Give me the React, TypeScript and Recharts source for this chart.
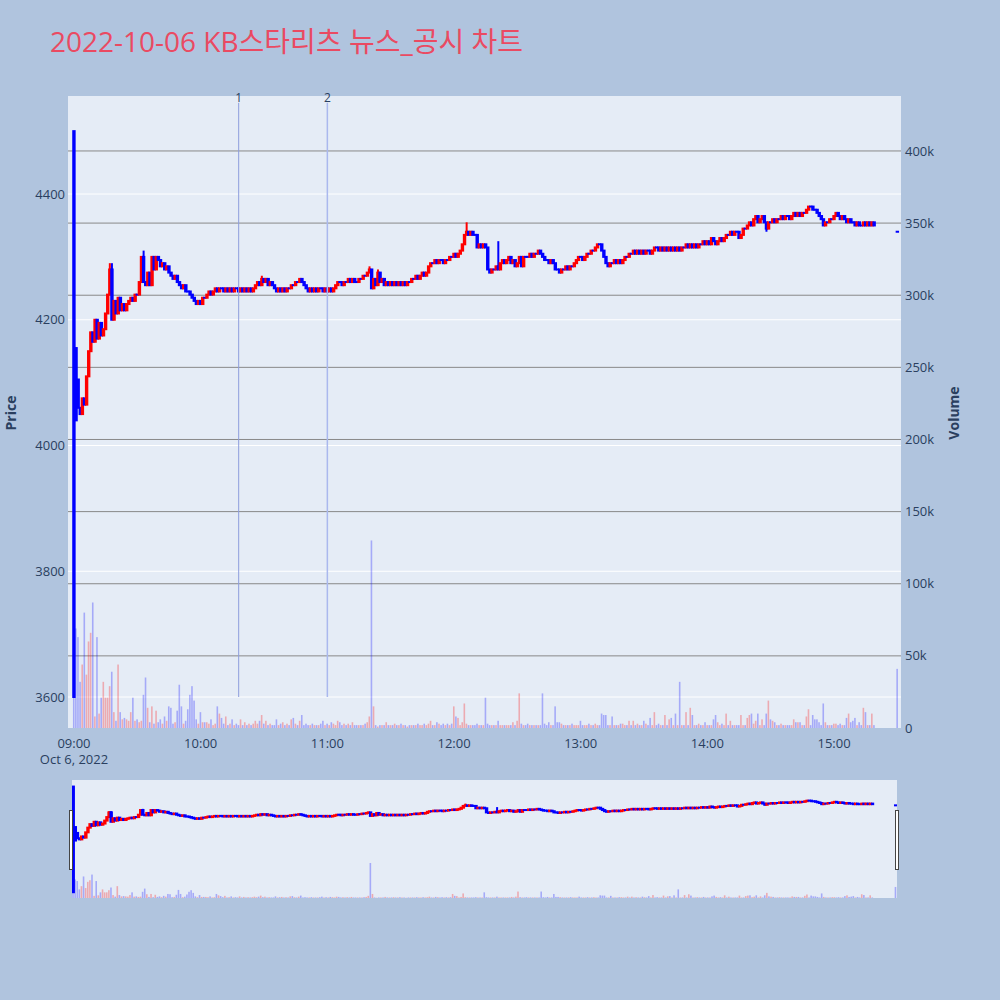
import { ComposedChart, Bar, XAxis, YAxis, CartesianGrid, ReferenceLine } from "recharts";

const RED = "#ff0000";
const BLUE = "#0000ff";
const INK = "#2a3f5f";
const FONT = '"Open Sans", "Noto Sans CJK KR", sans-serif';

// closing price per minute from 09:00 (index 0) to 15:19
const closes = [
  3600, 4040, 4060, 4050, 4075, 4065, 4110, 4150, 4180, 4165,
  4200, 4170, 4195, 4175, 4185, 4210, 4240, 4280, 4200, 4230,
  4210, 4235, 4215, 4225, 4215, 4225, 4230, 4235, 4230, 4240,
  4240, 4260, 4300, 4260, 4255, 4275, 4255, 4300, 4280, 4300,
  4295, 4285, 4290, 4280, 4285, 4275, 4270, 4265, 4270, 4260,
  4255, 4250, 4255, 4245, 4245, 4240, 4235, 4230, 4225, 4230,
  4225, 4235, 4235, 4240, 4245, 4240, 4245, 4250, 4245, 4250,
  4250, 4245, 4250, 4245, 4250, 4245, 4250, 4250, 4245, 4250,
  4245, 4250, 4245, 4250, 4245, 4250, 4255, 4260, 4255, 4265,
  4260, 4265, 4255, 4260, 4255, 4250, 4245, 4250, 4245, 4250,
  4245, 4250, 4250, 4255, 4255, 4260, 4260, 4265, 4260, 4255,
  4250, 4245, 4250, 4245, 4250, 4245, 4250, 4250, 4245, 4250,
  4245, 4250, 4245, 4250, 4255, 4260, 4260, 4255, 4260, 4260,
  4265, 4260, 4265, 4260, 4260, 4265, 4265, 4270, 4270, 4275,
  4280, 4250, 4265, 4255, 4275, 4260, 4265, 4255, 4260, 4255,
  4260, 4255, 4260, 4255, 4260, 4255, 4260, 4255, 4260, 4260,
  4265, 4265, 4270, 4265, 4270, 4275, 4270, 4275, 4285, 4290,
  4290, 4295, 4290, 4295, 4295, 4290, 4295, 4295, 4300, 4300,
  4305, 4300, 4305, 4310, 4320, 4335, 4340, 4335, 4340, 4335,
  4335, 4315, 4320, 4315, 4320, 4315, 4280, 4275, 4280, 4280,
  4285, 4280, 4290, 4295, 4290, 4295, 4300, 4290, 4295, 4285,
  4290, 4300, 4285, 4300, 4300, 4300, 4305, 4300, 4305, 4305,
  4310, 4305, 4300, 4295, 4295, 4290, 4295, 4290, 4280, 4280,
  4275, 4280, 4280, 4285, 4280, 4285, 4285, 4290, 4295, 4300,
  4300, 4295, 4300, 4305, 4305, 4310, 4310, 4315, 4320, 4320,
  4310, 4300, 4290, 4285, 4290, 4290, 4295, 4290, 4295, 4290,
  4295, 4300, 4300, 4305, 4305, 4310, 4305, 4310, 4305, 4310,
  4305, 4310, 4310, 4305, 4310, 4315, 4315, 4310, 4315, 4310,
  4315, 4310, 4315, 4310, 4315, 4310, 4315, 4310, 4315, 4315,
  4320, 4315, 4320, 4315, 4320, 4315, 4320, 4320, 4325, 4320,
  4325, 4320, 4330, 4325, 4320, 4325, 4330, 4325, 4330, 4335,
  4335, 4340, 4335, 4340, 4340, 4330, 4335, 4345, 4345, 4350,
  4355, 4350, 4360, 4365, 4355, 4360, 4365, 4355, 4345, 4355,
  4355, 4360, 4355, 4360, 4360, 4365, 4360, 4365, 4365, 4360,
  4365, 4370, 4365, 4370, 4365, 4370, 4370, 4375, 4380, 4380,
  4375, 4375, 4370, 4365, 4360, 4350, 4355, 4355, 4360, 4360,
  4365, 4370, 4365, 4360, 4365, 4360, 4355, 4360, 4355, 4355,
  4350, 4355, 4350, 4350, 4355, 4350, 4355, 4350, 4355, 4350,
];

// volume per minute, in thousands of shares
const volumes = [
  130, 69, 63, 32, 44, 80, 37, 60, 66, 87,
  8, 63, 10, 21, 32, 21, 21, 29, 39, 11,
  5, 44, 11, 6, 7, 6, 5, 11, 21, 5,
  6, 4, 5, 23, 35, 14, 4, 15, 3, 12,
  4, 6, 3, 8, 5, 15, 14, 3, 4, 12,
  30, 15, 3, 5, 13, 23, 29, 19, 6, 3,
  11, 4, 4, 4, 3, 6, 2, 3, 15, 10,
  7, 3, 8, 2, 3, 6, 2, 3, 2, 6,
  2, 4, 2, 3, 2, 3, 5, 3, 5, 9,
  3, 5, 2, 3, 2, 2, 6, 2, 3, 4,
  2, 3, 2, 6, 7, 3, 2, 5, 9, 2,
  3, 2, 2, 3, 2, 2, 2, 3, 5, 2,
  3, 2, 4, 3, 2, 5, 4, 2, 3, 2,
  3, 2, 4, 2, 2, 2, 2, 2, 3, 4,
  8, 130, 15, 2, 1, 2, 2, 2, 4, 2,
  2, 2, 3, 2, 2, 3, 2, 2, 1, 2,
  2, 2, 2, 3, 2, 2, 3, 2, 3, 5,
  2, 2, 4, 3, 2, 3, 2, 3, 2, 3,
  15, 8, 7, 2, 4, 17, 3, 2, 2, 2,
  2, 3, 2, 2, 2, 21, 3, 2, 2, 2,
  2, 5, 2, 2, 2, 2, 2, 2, 4, 2,
  5, 24, 3, 2, 2, 3, 2, 2, 2, 2,
  2, 2, 24, 3, 2, 4, 2, 2, 15, 4,
  4, 3, 2, 2, 2, 2, 3, 2, 2, 2,
  5, 2, 2, 2, 3, 2, 2, 3, 2, 2,
  10, 9, 9, 2, 2, 8, 2, 2, 2, 3,
  3, 2, 2, 5, 2, 5, 2, 3, 2, 2,
  5, 3, 2, 7, 2, 11, 2, 3, 2, 2,
  9, 2, 6, 7, 2, 10, 2, 32, 2, 2,
  11, 2, 14, 9, 2, 2, 3, 2, 2, 4,
  2, 2, 2, 6, 9, 4, 2, 3, 2, 10,
  2, 5, 2, 2, 2, 2, 9, 2, 2, 7,
  9, 10, 3, 5, 10, 2, 6, 2, 10, 19,
  6, 5, 4, 2, 2, 3, 2, 2, 2, 2,
  2, 6, 4, 4, 4, 2, 2, 8, 13, 2,
  9, 6, 6, 4, 2, 17, 4, 2, 2, 2,
  3, 3, 2, 3, 2, 2, 7, 10, 4, 5,
  7, 2, 4, 2, 14, 11, 2, 2, 10, 2,
];

// closing auction print at 15:30
const auctionMinute = 390;
const auctionClose = 4340;
const auctionVolume = 41;

// [minute, price] where a candle's open / wick differs from the plain previous close
const openFix: [number, number][] = [[0, 4500], [1, 4155], [2, 4105], [390, 4340]];
const highFix: [number, number][] = [
  [17, 4290], [18, 4290], [33, 4310],
  [89, 4270], [140, 4285], [144, 4280], [186, 4355], [201, 4325],
];
const lowFix: [number, number][] = [[328, 4340]];

const hourTicks = [0, 60, 120, 180, 240, 300, 360];
const hourLabels = ["09:00", "10:00", "11:00", "12:00", "13:00", "14:00", "15:00"];
const priceTicks = [3600, 3800, 4000, 4200, 4400];
const volumeTicks = [0, 50, 100, 150, 200, 250, 300, 350, 400];
const newsMinutes = [78, 120];
const newsLabels = ["1", "2"];
const newsColors = ["#8e9ddc", "#aab8ee"];

const minutes = closes.map((_, i) => i).concat([auctionMinute]);
const allCloses = closes.concat([auctionClose]);
const allVolumes = volumes.concat([auctionVolume]);

const rows = minutes.map((minute, i) => {
  const fo = openFix.find((f) => f[0] === minute);
  const open = fo ? fo[1] : allCloses[Math.max(i - 1, 0)];
  const close = allCloses[i];
  const fh = highFix.find((f) => f[0] === minute);
  const fl = lowFix.find((f) => f[0] === minute);
  const high = fh ? fh[1] : Math.max(open, close);
  const low = fl ? fl[1] : Math.min(open, close);
  return { minute, open, close, high, low, range: [low, high], vol: allVolumes[i] };
});

// plotly-like candle: 2px outline around the body, 2px wick
const Candle = (props: any) => {
  const { x, y, width, height, payload, bodyWidth = 1.4 } = props;
  if (!payload) return null;
  const { open, close, high, low } = payload;
  const color = close > open ? RED : BLUE;
  const top = Math.min(y, y + height);
  const bot = Math.max(y, y + height);
  const span = high - low;
  const toPx = (v: number) => (span === 0 ? top : bot - ((v - low) / span) * (bot - top));
  const cx = x + width / 2;
  const bTop = toPx(Math.max(open, close));
  const bBot = toPx(Math.min(open, close));
  return (
    <g>
      {top !== bot && <line x1={cx} x2={cx} y1={top} y2={bot} stroke={color} strokeWidth={2} />}
      <rect
        x={cx - bodyWidth / 2 - 1}
        y={bTop - 1}
        width={bodyWidth + 2}
        height={bBot - bTop + 2}
        fill={color}
      />
    </g>
  );
};

const VolumeBar = (props: any) => {
  const { x, y, width, height, payload } = props;
  if (!payload || !height) return null;
  const color = payload.close > payload.open ? RED : BLUE;
  return <rect x={x} y={y} width={width} height={height} fill={color} fillOpacity={0.28} />;
};

const TimeTick = (props: any) => {
  const { x, y, payload } = props;
  const idx = hourTicks.indexOf(payload.value);
  return (
    <g>
      <text x={x} y={y + 12} textAnchor="middle" fill={INK} fontSize={13} fontFamily={FONT}>
        {hourLabels[idx]}
      </text>
      {idx === 0 && (
        <text x={x} y={y + 28} textAnchor="middle" fill={INK} fontSize={13} fontFamily={FONT}>
          Oct 6, 2022
        </text>
      )}
    </g>
  );
};

export default function App() {
  return (
    <div
      style={{
        position: "absolute",
        left: 0,
        top: 0,
        width: 1000,
        height: 1000,
        background: "#B0C4DE",
        fontFamily: FONT,
        overflow: "hidden",
      }}
    >
      <div style={{ position: "absolute", left: 50, top: 20, fontSize: 28, color: "#ea4a62", whiteSpace: "nowrap" }}>
        2022-10-06 KB스타리츠 뉴스_공시 차트
      </div>

      <div
        style={{
          position: "absolute",
          left: 10,
          top: 413,
          transform: "translate(-50%, -50%) rotate(-90deg)",
          fontSize: 14,
          fontWeight: 700,
          color: INK,
        }}
      >
        Price
      </div>
      <div
        style={{
          position: "absolute",
          left: 953,
          top: 413,
          transform: "translate(-50%, -50%) rotate(-90deg)",
          fontSize: 14,
          fontWeight: 700,
          color: INK,
        }}
      >
        Volume
      </div>

      {/* main chart */}
      <div style={{ position: "absolute", left: 0, top: 0 }}>
        <ComposedChart width={1000} height={780} data={rows} margin={{ top: 96, right: 39, bottom: 12, left: 8 }}>
          <CartesianGrid
            xAxisId="p"
            yAxisId="price"
            fill="#E5ECF6"
            fillOpacity={1}
            stroke="#ffffff"
            strokeWidth={1}
            vertical={false}
            horizontalValues={priceTicks}
          />
          <CartesianGrid
            xAxisId="p"
            yAxisId="vol"
            stroke="#888888"
            strokeWidth={1}
            vertical={false}
            horizontalValues={volumeTicks.slice(1)}
          />
          <XAxis
            xAxisId="p"
            dataKey="minute"
            type="number"
            domain={[-2.84, 391.7]}
            allowDataOverflow
            ticks={hourTicks}
            tick={<TimeTick />}
            axisLine={false}
            tickLine={false}
            height={40}
            interval={0}
          />
          <XAxis xAxisId="v" dataKey="minute" type="number" domain={[-2.84, 391.7]} allowDataOverflow hide />
          <YAxis
            yAxisId="price"
            orientation="left"
            domain={[3550.7, 4555.9]}
            allowDataOverflow
            ticks={priceTicks}
            width={60}
            axisLine={false}
            tickLine={false}
            tickSize={0}
            tickMargin={3}
            tick={{ fill: INK, fontSize: 13, fontFamily: FONT }}
          />
          <YAxis
            yAxisId="vol"
            orientation="right"
            domain={[0, 438.1]}
            allowDataOverflow
            ticks={volumeTicks}
            tickFormatter={(v: number) => (v === 0 ? "0" : `${v}k`)}
            width={60}
            axisLine={false}
            tickLine={false}
            tickSize={0}
            tickMargin={4}
            tick={{ fill: INK, fontSize: 13, fontFamily: FONT }}
          />
          <Bar xAxisId="v" yAxisId="vol" dataKey="vol" barSize={1.6} shape={<VolumeBar />} isAnimationActive={false} />
          <Bar xAxisId="p" yAxisId="price" dataKey="range" barSize={2} shape={<Candle />} isAnimationActive={false} />
          {newsMinutes.map((m, i) => (
            <ReferenceLine
              key={m}
              xAxisId="p"
              yAxisId="price"
              segment={[
                { x: m, y: 3600 },
                { x: m, y: 4545 },
              ]}
              stroke={newsColors[i]}
              strokeWidth={i === 0 ? 1 : 1.5}
              label={{ value: newsLabels[i], position: "top", offset: 1, fill: INK, fontSize: 12, fontFamily: FONT }}
            />
          ))}
        </ComposedChart>
      </div>

      {/* range slider */}
      <div style={{ position: "absolute", left: 72, top: 780, width: 825, height: 118, background: "#E5ECF6" }}>
        <ComposedChart width={825} height={118} data={rows} margin={{ top: 0, right: 0, bottom: 0, left: 0 }}>
          <XAxis xAxisId="p" dataKey="minute" type="number" domain={[-0.6, 390.6]} allowDataOverflow hide />
          <XAxis xAxisId="v" dataKey="minute" type="number" domain={[-0.6, 390.6]} allowDataOverflow hide />
          <YAxis yAxisId="price" domain={[3550.7, 4555.9]} allowDataOverflow hide />
          <YAxis yAxisId="vol" domain={[0, 438.1]} allowDataOverflow hide />
          <Bar xAxisId="v" yAxisId="vol" dataKey="vol" barSize={1.6} shape={<VolumeBar />} isAnimationActive={false} />
          <Bar xAxisId="p" yAxisId="price" dataKey="range" barSize={2} shape={<Candle />} isAnimationActive={false} />
        </ComposedChart>
      </div>
      <div
        style={{
          position: "absolute",
          left: 69,
          top: 810,
          width: 2,
          height: 58,
          background: "#fff",
          border: "1px solid #444",
        }}
      />
      <div
        style={{
          position: "absolute",
          left: 895,
          top: 810,
          width: 2,
          height: 58,
          background: "#fff",
          border: "1px solid #444",
        }}
      />
    </div>
  );
}
